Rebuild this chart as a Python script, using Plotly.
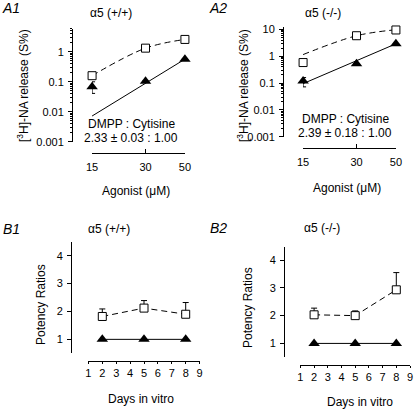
import math
import plotly.graph_objects as go

# ---------------- data ----------------
agonist = [15, 30, 50]
a1_dmpp = [0.16, 1.33, 2.6]
a1_cyt = [0.068, 0.105, 0.57]
a1_cyt_err_plus = [0.032, 0, 0]
a1_cyt_err_minus = [0.027, 0, 0]
a1_fit_dmpp = [0.16, 1.33, 2.6]
a1_fit_cyt_x = [15, 50]
a1_fit_cyt = [0.0072, 0.57]

a2_dmpp = [0.58, 5.8, 9.5]
a2_cyt = [0.12, 0.52, 2.9]
a2_cyt_err_plus = [0.04, 0, 0]
a2_cyt_err_minus = [0.048, 0, 0]
a2_fit_dmpp = [1.15, 5.8, 9.7]
a2_fit_cyt_x = [15, 50]
a2_fit_cyt = [0.095, 2.9]

days = [2, 5, 8]
b1_dmpp = [1.82, 2.12, 1.9]
b1_dmpp_err = [0.27, 0.27, 0.42]
b1_cyt = [1, 1, 1]
b2_dmpp = [2.03, 2.0, 2.93]
b2_dmpp_err = [0.24, 0.17, 0.62]
b2_cyt = [1, 1, 1]

log_ticks = [0.001, 0.01, 0.1, 1, 10]
log_ticktext = ["0.001", "0.01", "0.1", "1", "10"]
ratio_ticks = [1, 2, 3, 4]
day_ticks = [1, 2, 3, 4, 5, 6, 7, 8, 9]

# ---------------- layout helpers ----------------
W, H = 414, 409
FONT = "Liberation Sans, Arial, sans-serif"


def px(x):
    return x / W


def py(y):
    return 1 - y / H


fig = go.Figure()


def add_lines_markers(xa, ya, x, y_open, y_fill, fit_open_x, fit_open, fit_fill_x, fit_fill,
                      open_err=None, fill_err=None, spline=True):
    fig.add_trace(go.Scatter(x=fit_open_x, y=fit_open, mode="lines", xaxis=xa, yaxis=ya,
                             line=dict(color="black", width=1, dash="6px,4px",
                                       shape="spline" if spline else "linear"),
                             hoverinfo="skip", showlegend=False))
    fig.add_trace(go.Scatter(x=fit_fill_x, y=fit_fill, mode="lines", xaxis=xa, yaxis=ya,
                             line=dict(color="black", width=1), hoverinfo="skip", showlegend=False))
    ekw = {}
    if fill_err is not None:
        ekw = dict(error_y=dict(type="data", symmetric=False, array=fill_err[0], arrayminus=fill_err[1],
                                color="black", thickness=1, width=3))
    fig.add_trace(go.Scatter(x=x, y=y_fill, mode="markers", xaxis=xa, yaxis=ya, cliponaxis=False,
                             marker=dict(symbol="triangle-up", size=10, color="black",
                                         line=dict(color="black", width=0)),
                             showlegend=False, **ekw))
    ekw = {}
    if open_err is not None:
        ekw = dict(error_y=dict(type="data", symmetric=False, array=open_err, arrayminus=[0] * len(open_err),
                                color="black", thickness=1, width=3))
    fig.add_trace(go.Scatter(x=x, y=y_open, mode="markers", xaxis=xa, yaxis=ya, cliponaxis=False,
                             marker=dict(symbol="square", size=8, color="white",
                                         line=dict(color="black", width=1)),
                             showlegend=False, **ekw))


add_lines_markers("x", "y", agonist, a1_dmpp, a1_cyt, agonist, a1_fit_dmpp, a1_fit_cyt_x, a1_fit_cyt,
                  fill_err=(a1_cyt_err_plus, a1_cyt_err_minus))
add_lines_markers("x2", "y2", agonist, a2_dmpp, a2_cyt, agonist, a2_fit_dmpp, a2_fit_cyt_x, a2_fit_cyt,
                  fill_err=(a2_cyt_err_plus, a2_cyt_err_minus))
add_lines_markers("x3", "y3", days, b1_dmpp, b1_cyt, days, b1_dmpp, days, b1_cyt,
                  open_err=b1_dmpp_err, spline=False)
add_lines_markers("x4", "y4", days, b2_dmpp, b2_cyt, days, b2_dmpp, days, b2_cyt,
                  open_err=b2_dmpp_err, spline=False)

tickfont = dict(family=FONT, size=11, color="black")
minor_log = [k * 10 ** e for e in range(-3, 1) for k in range(2, 10)]
EPS = 0.0005


def xaxis(dom, ypos, rng, tickvals, logt, standoff, ticklen, tickdir):
    d = dict(domain=[px(dom[0]), px(dom[1])], anchor="free", position=py(ypos),
             range=rng, showline=True, linecolor="black", linewidth=1,
             ticks=tickdir, ticklen=ticklen, tickwidth=1, tickcolor="black",
             tickvals=tickvals, ticktext=[str(t) for t in tickvals],
             showgrid=False, zeroline=False, tickfont=tickfont,
             ticklabelstandoff=standoff, fixedrange=True)
    if logt:
        d["type"] = "log"
    return d


def yaxis(dom, xpos, rng, tickvals, ticktext, logt):
    d = dict(domain=[py(dom[1]), py(dom[0])], anchor="free", position=px(xpos),
             range=rng, showline=True, linecolor="black", linewidth=1,
             ticks="outside", ticklen=4, tickwidth=1, tickcolor="black",
             tickvals=tickvals, ticktext=ticktext,
             showgrid=False, zeroline=False, tickfont=tickfont,
             ticklabelstandoff=2, fixedrange=True)
    if logt:
        d["type"] = "log"
        d["minor"] = dict(ticks="outside", ticklen=2, tickwidth=1, tickcolor="black",
                          tickvals=minor_log + [k * 10 for k in range(2, 10)] if rng[1] > 1.05 else minor_log,
                          showgrid=False)
    return d


xr_log = [math.log10(15) - EPS, math.log10(50) + EPS]

fig.update_layout(
    width=W, height=H, margin=dict(l=0, r=0, t=0, b=0, autoexpand=False),
    paper_bgcolor="white", plot_bgcolor="rgba(0,0,0,0)",
    font=dict(family=FONT, color="black"),
    xaxis=xaxis((92, 185), 152.5, xr_log, agonist, True, 4, 4, "inside"),
    yaxis=yaxis((28.5, 141.7), 72, [-3, 0.78], log_ticks[:4], log_ticktext[:4], True),
    xaxis2=xaxis((303, 396), 148, xr_log, agonist, True, 4, 4, "inside"),
    yaxis2=yaxis((26.7, 136.7), 283, [-3, 1.1], log_ticks, log_ticktext, True),
    xaxis3=xaxis((88.4, 199.6), 361, [1, 9], day_ticks, False, 0, 2, "outside"),
    yaxis3=yaxis((241.7, 353.3), 71, [0.5, 4.5], ratio_ticks, [str(t) for t in ratio_ticks], False),
    xaxis4=xaxis((300.4, 410), 365, [1, 9], day_ticks, False, 0, 2, "outside"),
    yaxis4=yaxis((247.3, 357.3), 284, [0.5, 4.46], ratio_ticks, [str(t) for t in ratio_ticks], False),
)

ann = []


def text(x, y, s, size=12, angle=0, italic=False, xanchor="center"):
    ann.append(dict(x=px(x), y=py(y), xref="paper", yref="paper", text=s, showarrow=False,
                    textangle=angle, xanchor=xanchor, yanchor="middle",
                    font=dict(family=FONT, size=size, color="black",
                              style="italic" if italic else "normal")))


# panel labels and titles
text(0, 8, "A1", 14, italic=True, xanchor="left")
text(111, 13, "α5 (+/+)", 12)
text(207, 8, "A2", 14, italic=True, xanchor="left")
text(323, 13, "α5 (-/-)", 12)
text(1, 229, "B1", 14, italic=True, xanchor="left")
text(109, 229, "α5 (+/+)", 12)
text(208, 228, "B2", 14, italic=True, xanchor="left")
text(322, 228, "α5 (-/-)", 12)

# axis titles
text(23, 86, "[<sup>3</sup>H]-NA release (S%)", 12, angle=-90)
text(243, 86, "[<sup>3</sup>H]-NA release (S%)", 12, angle=-90)
text(136, 191, "Agonist (μM)", 12)
text(347, 188, "Agonist (μM)", 12)
text(41, 305, "Potency Ratios", 12, angle=-90)
text(248, 308, "Potency Ratios", 12, angle=-90)
text(141, 399, "Days in vitro", 12)
text(360, 402, "Days in vitro", 12)

# ratio annotations
text(131, 124, "DMPP : Cytisine", 12)
text(131, 138, "2.33 ± 0.03 : 1.00", 12)
text(345, 119, "DMPP : Cytisine", 12)
text(345, 133, "2.39 ± 0.18 : 1.00", 12)

fig.update_layout(annotations=ann)
fig.write_html("out.html", config={"displayModeBar": False},
               post_script="document.body.style.margin='0';document.body.style.overflow='hidden';")
